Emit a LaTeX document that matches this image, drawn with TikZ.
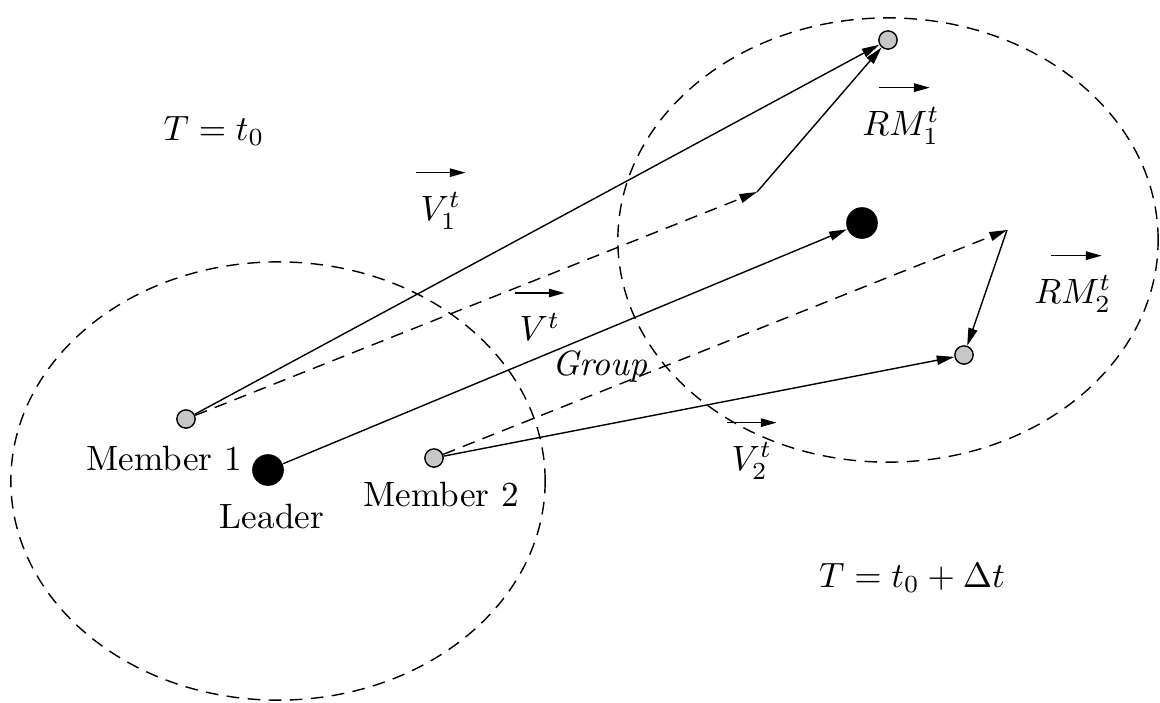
\documentclass[tikz,border=0pt]{standalone}
\usetikzlibrary{arrows.meta,positioning}

\begin{document}
\begin{tikzpicture}[x=0.01cm,y=-0.01cm,>={Triangle[length=5pt,width=2.6pt]},
 member/.style={circle,draw,fill=black!22,inner sep=0pt,minimum size=5.2pt},
 leader/.style={circle,fill=black,inner sep=0pt,minimum size=9pt},
 zone/.style={draw,dash pattern=on 3.6pt off 2.4pt},
 track/.style={->,dash pattern=on 3.6pt off 2.4pt},
 lbl/.style={inner sep=1pt},
 vec/.style={-{Triangle[length=4.5pt,width=2.4pt]}}]
\useasboundingbox (0,0) rectangle (1160,702);
% group areas
\draw[zone] (278,481) ellipse [x radius=2.67cm,y radius=2.19cm];
\draw[zone] (888,240) ellipse [x radius=2.70cm,y radius=2.22cm];
% positions at t0
\node[member] (m1) at (186,419) {};
\node[leader] (ld) at (268,470) {};
\node[member] (m2) at (434,458) {};
% positions at t0 + dt
\node[member] (m1n) at (888,40) {};
\node[leader] (ldn) at (862,223) {};
\node[member] (m2n) at (964,355) {};
\coordinate (p1) at (757,192);
\coordinate (p2) at (1007,230);
% movements
\draw[->] (m1)--(m1n);
\draw[track] (m1)--(p1);
\draw[->] (p1)--(m1n);
\draw[->] (ld)--(ldn);
\draw[track] (m2)--(p2);
\draw[->] (p2)--(m2n);
\draw[->] (m2)--(m2n);
% labels
\node[lbl] (mem1) at (164,458) {Member 1};
\node[lbl] (lead) at (272,516) {Leader};
\node[lbl] (mem2) at (441,494) {Member 2};
\node[lbl] (grp) at (600,367) {\textit{Group}};
\node[lbl] (t0) at (214,131) {$T = t_0$};
\node[lbl] (t1) at (912,578) {$T = t_0 + \Delta t$};
\node[lbl] (v1) at (441,211) {$V_1^t$};
\node[lbl] (v) at (540,327) {$V^t$};
\node[lbl] (v2) at (752,461) {$V_2^t$};
\node[lbl] (rm1) at (901,126) {$RM_1^t$};
\node[lbl] (rm2) at (1073,294) {$RM_2^t$};
\foreach \n in {v1,v,v2}
  \draw[vec] ([yshift=4.5pt]\n.north west)--([yshift=4.5pt]\n.north east);
\foreach \n in {rm1,rm2}
  \draw[vec] ([xshift=6pt,yshift=4.5pt]\n.north west)--([xshift=-4pt,yshift=4.5pt]\n.north east);
\end{tikzpicture}
\end{document}
